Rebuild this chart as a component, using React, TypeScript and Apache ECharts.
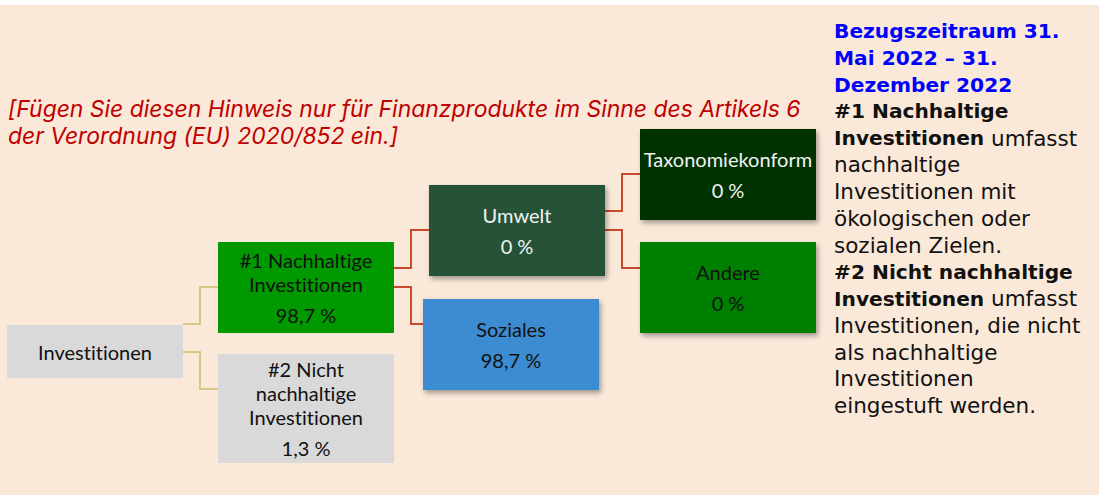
import React, { useEffect, useRef } from "react";
import * as echarts from "echarts";

// ---- data ----
const nodeNames: string[] = [
  "Investitionen",
  "#1 Nachhaltige\nInvestitionen",
  "#2 Nicht\nnachhaltige\nInvestitionen",
  "Umwelt",
  "Soziales",
  "Taxonomiekonform",
  "Andere",
];
const nodeValues: (number | null)[] = [null, 98.7, 1.3, 0, 98.7, 0, 0];
const nodeParents: number[] = [-1, 0, 0, 1, 1, 3, 3];

const noteLines: string[] = [
  "[Fügen Sie diesen Hinweis nur für Finanzprodukte im Sinne des Artikels 6",
  "der Verordnung (EU) 2020/852 ein.]",
];
const periodLines: string[] = ["Bezugszeitraum 31.", "Mai 2022 – 31.", "Dezember 2022"];
const definitionLines: [string, string][] = [
  ["#1 Nachhaltige", ""],
  ["Investitionen", " umfasst"],
  ["", "nachhaltige"],
  ["", "Investitionen mit"],
  ["", "ökologischen oder"],
  ["", "sozialen Zielen."],
  ["#2 Nicht nachhaltige", ""],
  ["Investitionen", " umfasst"],
  ["", "Investitionen, die nicht"],
  ["", "als nachhaltige"],
  ["", "Investitionen"],
  ["", "eingestuft werden."],
];

// ---- layout (positions / styles only) ----
const boxLayout = [
  { x: 7, y: 325, w: 176, h: 53, fill: "#D9D9D9", color: "#111", shadow: false },
  { x: 218, y: 242, w: 176, h: 91, fill: "#009900", color: "#111", shadow: false },
  { x: 218, y: 354, w: 176, h: 109, fill: "#D9D9D9", color: "#111", shadow: false },
  { x: 429, y: 185, w: 176, h: 91, fill: "#255337", color: "#F2F2F2", shadow: true },
  { x: 423, y: 299, w: 176, h: 91, fill: "#3E8BD0", color: "#111", shadow: true },
  { x: 640, y: 129, w: 176, h: 91, fill: "#023100", color: "#F2F2F2", shadow: true },
  { x: 640, y: 242, w: 176, h: 91, fill: "#008000", color: "#111", shadow: true },
];
// per child: [parentAnchorY, elbowX, childAnchorY]
const edgeLayout: Record<number, [number, number, number]> = {
  1: [324, 200, 287],
  2: [352, 200, 389],
  3: [268, 411, 230],
  4: [287, 411, 324],
  5: [211, 622, 174],
  6: [230, 622, 268],
};
const edgeColors = ["#D6C886", "#C8492C", "#C8492C", "#C8492C"];

const BOX_FONT = "Lato";
const NOTE_FONT = "Inter";
const SIDE_FONT = "DejaVu Sans";

function fmtPct(v: number): string {
  return String(v).replace(".", ",") + " %";
}

function txt(x: number, y: number, style: any, z = 3): any {
  return {
    type: "text",
    x,
    y,
    style: {
      verticalAlign: "middle",
      textVerticalAlign: "middle",
      ...style,
    },
    z,
  };
}

function buildGraphic(): any[] {
  const els: any[] = [];
  // background
  els.push({ type: "rect", shape: { x: 0, y: 5, width: 1099, height: 490 }, style: { fill: "#FAE8D8" }, z: 0 });

  // edges
  nodeParents.forEach((p, i) => {
    if (p < 0) return;
    const pb = boxLayout[p];
    const cb = boxLayout[i];
    const [py, ex, cy] = edgeLayout[i];
    els.push({
      type: "polyline",
      shape: { points: [[pb.x + pb.w, py], [ex, py], [ex, cy], [cb.x, cy]] },
      style: { stroke: edgeColors[p] || "#C8492C", lineWidth: 2, fill: null },
      z: 1,
    });
  });

  // boxes
  nodeNames.forEach((name, i) => {
    const b = boxLayout[i];
    els.push({
      type: "rect",
      shape: { x: b.x, y: b.y, width: b.w, height: b.h },
      style: b.shadow
        ? { fill: b.fill, shadowBlur: 5, shadowColor: "rgba(0,0,0,0.35)", shadowOffsetX: 2, shadowOffsetY: 3 }
        : { fill: b.fill },
      z: 2,
    });
    const lines = name.split("\n");
    const v = nodeValues[i];
    const lineGap = 24;
    const valGap = 31;
    const span = v === null ? (lines.length - 1) * lineGap : (lines.length - 1) * lineGap + valGap;
    const cx = b.x + b.w / 2;
    const first = b.y + b.h / 2 - span / 2;
    const base = { fill: b.color, fontFamily: BOX_FONT, fontSize: 20, align: "center", textAlign: "center" };
    lines.forEach((ln, k) => {
      els.push(txt(cx, first + k * lineGap, { ...base, text: ln }));
    });
    if (v !== null) {
      els.push(txt(cx, first + (lines.length - 1) * lineGap + valGap, { ...base, text: fmtPct(v) }));
    }
  });

  // red note
  noteLines.forEach((ln, k) => {
    els.push(
      txt(8, 109 + k * 27, {
        text: ln,
        fill: "#C00000",
        fontFamily: NOTE_FONT,
        fontSize: 22.9,
        fontStyle: "italic",
        align: "left",
        textAlign: "left",
      })
    );
  });

  // right-hand text
  const LH = 26.75;
  let row = 0;
  periodLines.forEach((ln) => {
    els.push(
      txt(834, 31 + row * LH, {
        text: ln,
        fill: "#0000FF",
        fontFamily: SIDE_FONT,
        fontSize: 20.2,
        fontWeight: "bold",
        align: "left",
        textAlign: "left",
      })
    );
    row++;
  });
  definitionLines.forEach(([b, r]) => {
    let t = "";
    if (b) t += "{b|" + b + "}";
    if (r) t += "{r|" + r + "}";
    els.push(
      txt(834, 31 + row * LH, {
        text: t,
        align: "left",
        textAlign: "left",
        rich: {
          b: { fontFamily: SIDE_FONT, fontSize: 20.2, fontWeight: "bold", fill: "#111", color: "#111" },
          r: { fontFamily: SIDE_FONT, fontSize: 21.5, fontWeight: "normal", fill: "#111", color: "#111" },
        },
      })
    );
    row++;
  });
  return els;
}

export default function App() {
  const ref = useRef<HTMLDivElement>(null);
  useEffect(() => {
    if (!ref.current) return;
    const chart = echarts.init(ref.current, undefined, { renderer: "svg" });
    chart.setOption({
      animation: false,
      backgroundColor: "#FFFFFF",
      graphic: { elements: buildGraphic() },
    });
    return () => chart.dispose();
  }, []);
  return (
    <>
      <style>{"svg text, svg tspan { font-variant-ligatures: none !important; font-feature-settings: 'liga' 0, 'clig' 0 !important; }"}</style>
      <div ref={ref} style={{ position: "fixed", left: 0, top: 0, width: 1099, height: 495 }} />
    </>
  );
}
